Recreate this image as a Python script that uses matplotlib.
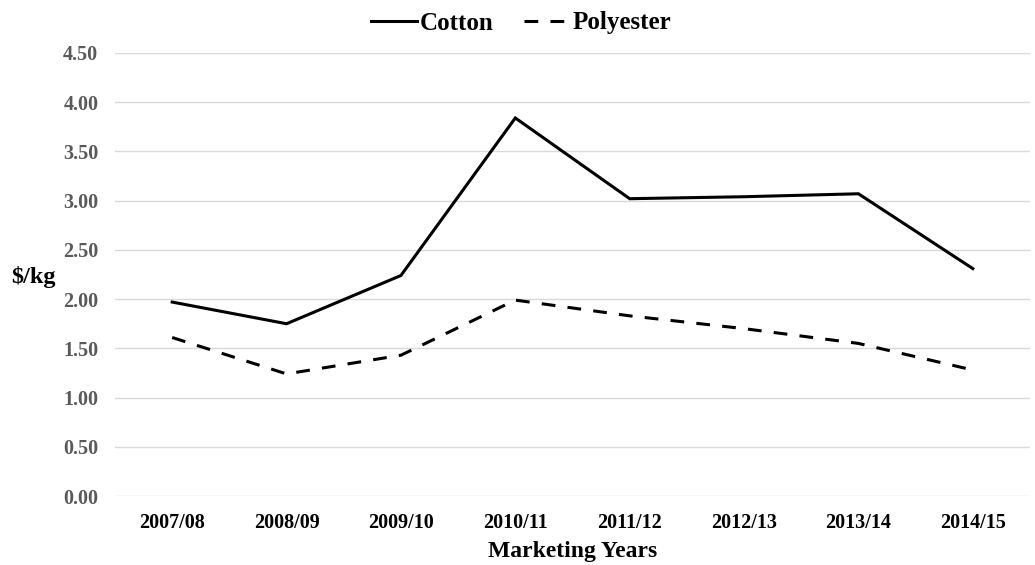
import matplotlib
matplotlib.use("Agg")
import matplotlib.pyplot as plt
from matplotlib.lines import Line2D

years = ["2007/08", "2008/09", "2009/10", "2010/11", "2011/12", "2012/13", "2013/14", "2014/15"]
cotton = [1.97, 1.75, 2.24, 3.84, 3.02, 3.04, 3.07, 2.31]
polyester = [1.61, 1.24, 1.43, 1.99, 1.83, 1.70, 1.55, 1.28]
yticks = [0.0, 0.5, 1.0, 1.5, 2.0, 2.5, 3.0, 3.5, 4.0, 4.5]

plt.rcParams['font.family'] = ['Liberation Serif', 'DejaVu Serif']
plt.rcParams['font.weight'] = 'bold'

LW = 2.2
DASH = (4.5, 4.0)

fig = plt.figure(figsize=(10.35, 5.65), dpi=100)
ax = fig.add_axes([115/1035, 1 - 496/565, (1030-115)/1035, (496-53)/565])

x = list(range(len(years)))
ax.plot(x, cotton, color='black', lw=LW, solid_joinstyle='miter', label='Cotton')
ax.plot(x, polyester, color='black', lw=LW, dashes=DASH, label='Polyester')

ax.set_xlim(-0.5, len(years) - 0.5)
ax.set_ylim(0, 4.5)
ax.set_yticks(yticks)
ax.set_yticklabels([f"{v:.2f}" for v in yticks], color='#595959', fontsize=14.5, fontweight='bold')
ax.set_xticks(x)
ax.set_xticklabels(years, fontsize=14.5, fontweight='bold', color='black')
ax.tick_params(axis='both', length=0)
ax.tick_params(axis='y', pad=12)
ax.tick_params(axis='x', pad=12)
ax.grid(axis='y', color='#d9d9d9', lw=1)
ax.set_axisbelow(True)
for s in ax.spines.values():
    s.set_visible(False)

ax.set_xlabel("Marketing Years", fontsize=17, fontweight='bold', labelpad=6)
fig.text(33/1035, 1 - 277/565, "\\$/kg", fontsize=17.5, fontweight='bold', ha='center', va='center')

handles = [Line2D([0], [0], color='black', lw=LW),
           Line2D([0], [0], color='black', lw=LW, dashes=DASH)]
fig.legend(handles, ['Cotton', 'Polyester'], loc='center', bbox_to_anchor=(521/1035, 1 - 23/565),
           ncol=2, frameon=False, prop={'size': 18, 'weight': 'bold'},
           handlelength=1.85, handletextpad=0.1, columnspacing=1.2)

fig.savefig("out.png", dpi=100)
